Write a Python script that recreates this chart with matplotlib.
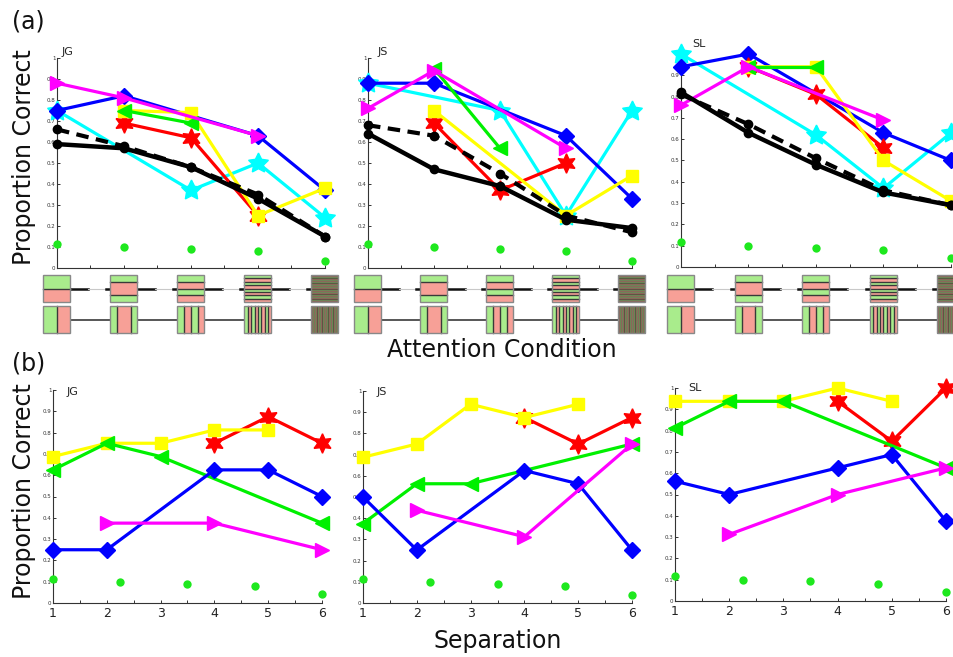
import numpy as np
import matplotlib.pyplot as plt
from matplotlib.patches import Rectangle

nan = np.nan
W, H = 954, 657

subjects = ['JG', 'JS', 'SL']
conditions = [1, 2, 3, 4, 5]
separations = [1, 2, 3, 4, 5, 6]

# (a) proportion correct vs attention condition, one row per subject
a_cyan = [[0.75, nan, 0.37, 0.50, 0.24],
          [0.88, nan, 0.75, 0.25, 0.75],
          [1.00, nan, 0.62, 0.37, 0.63]]
a_blue = [[0.75, 0.82, nan, 0.63, 0.37],
          [0.88, 0.88, nan, 0.63, 0.33],
          [0.94, 1.00, nan, 0.63, 0.50]]
a_red = [[nan, 0.69, 0.62, 0.25, nan],
         [nan, 0.69, 0.37, 0.50, nan],
         [nan, 0.94, 0.81, 0.56, nan]]
a_yellow = [[nan, 0.75, 0.74, 0.25, 0.38],
            [nan, 0.75, nan, 0.25, 0.44],
            [nan, 0.94, 0.94, 0.50, 0.31]]
a_green = [[nan, 0.75, 0.69, nan, nan],
           [nan, 0.95, 0.57, nan, nan],
           [nan, 0.94, 0.94, nan, nan]]
a_magenta = [[0.88, 0.81, nan, 0.63, nan],
             [0.76, 0.94, nan, 0.57, nan],
             [0.76, 0.94, nan, 0.69, nan]]
a_mean = [[0.59, 0.57, 0.48, 0.33, 0.15],
          [0.64, 0.47, 0.39, 0.23, 0.19],
          [0.82, 0.63, 0.48, 0.35, 0.29]]
a_model = [[0.66, 0.58, 0.48, 0.35, 0.15],
           [0.68, 0.63, 0.45, 0.25, 0.17],
           [0.81, 0.67, 0.51, 0.36, 0.29]]
a_chance = [[0.115, 0.10, 0.09, 0.08, 0.035],
            [0.113, 0.10, 0.09, 0.08, 0.035],
            [0.117, 0.10, 0.09, 0.08, 0.04]]

# (b) proportion correct vs separation
b_yellow = [[0.6875, 0.75, 0.75, 0.8125, 0.8125, nan],
            [0.6875, 0.75, 0.9375, 0.875, 0.9375, nan],
            [0.9375, 0.9375, 0.9375, 1.0, 0.9375, nan]]
b_red = [[nan, nan, nan, 0.75, 0.875, 0.75],
         [nan, nan, nan, 0.875, 0.75, 0.875],
         [nan, nan, nan, 0.9375, 0.75, 1.0]]
b_green = [[0.625, 0.75, 0.6875, nan, nan, 0.375],
           [0.375, 0.5625, 0.5625, nan, nan, 0.75],
           [0.8125, 0.9375, 0.9375, nan, nan, 0.625]]
b_blue = [[0.25, 0.25, nan, 0.625, 0.625, 0.5],
          [0.5, 0.25, nan, 0.625, 0.5625, 0.25],
          [0.5625, 0.5, nan, 0.625, 0.6875, 0.375]]
b_magenta = [[nan, 0.375, nan, 0.375, nan, 0.25],
             [nan, 0.4375, nan, 0.3125, nan, 0.75],
             [nan, 0.3125, nan, 0.5, nan, 0.625]]
b_chance = [[0.115, 0.10, 0.09, 0.08, 0.04],
            [0.115, 0.10, 0.09, 0.08, 0.04],
            [0.117, 0.10, 0.093, 0.082, 0.042]]

# stripe edges of the stimulus icons under (a)
icon_edges = [[0.5], [0.25, 0.75], [0.25, 0.5, 0.75],
              list(np.linspace(0, 1, 9)[1:-1]), list(np.linspace(0, 1, 33)[1:-1])]

# pixel boxes (left, right, top, bottom)
boxes_a = [(57, 325, 58, 268), (368, 632, 58, 268), (681, 951, 54, 267)]
boxes_b = [(53, 322, 390, 603), (363, 632, 391, 603), (675, 946, 388, 601)]
label_pos_a = [(1.075, 1.03), (1.14, 1.03), (1.16, 1.045)]
label_pos_b = [(1.26, 0.99), (1.26, 0.995), (1.24, 1.0)]

GREEN_ICON = '#a9ec8c'
SALMON = '#f7a097'
DARK = '#3a3a3a'

styles = {
    'cyan': dict(color='#00ffff', marker=(5, 1, 0), ms=15),
    'blue': dict(color='#0000ff', marker='D', ms=8),
    'red': dict(color='#ff0000', marker=(6, 1, 0), ms=14),
    'yellow': dict(color='#ffff00', marker='s', ms=8),
    'green': dict(color='#00f000', marker='<', ms=10),
    'magenta': dict(color='#ff00ff', marker='>', ms=10),
}

fig = plt.figure(figsize=(W / 100, H / 100), dpi=100)


def px_axes(box):
    l, r, t, b = box
    return fig.add_axes([l / W, 1 - b / H, (r - l) / W, (b - t) / H])


def series(ax, x, y, **kw):
    x = np.asarray(x, float)
    y = np.asarray(y, float)
    m = ~np.isnan(y)
    ax.plot(x[m], y[m], clip_on=False, **kw)


def style_axes(ax, xmax, xlabels):
    ax.set_xlim(1, xmax)
    ax.set_ylim(0, 1)
    for s in ['top', 'right']:
        ax.spines[s].set_visible(False)
    for s in ['left', 'bottom']:
        ax.spines[s].set_color('#333333')
        ax.spines[s].set_linewidth(0.8)
    yt = np.round(np.arange(0, 1.01, 0.1), 1)
    ax.set_yticks(yt)
    ax.set_yticklabels(['0'] + [f'{v:g}' for v in yt[1:-1]] + ['1'])
    xt = np.arange(1, xmax + 0.01, 0.5)
    ax.set_xticks(xt)
    if xlabels:
        ax.set_xticklabels([f'{int(v)}' if v == int(v) else '' for v in xt])
    else:
        ax.set_xticklabels([])
    ax.tick_params(direction='in', length=2.5, width=0.7, colors='#333333')
    ax.tick_params(axis='y', labelsize=4, pad=1)
    ax.tick_params(axis='x', labelsize=9, pad=3, labelcolor='#222222')


def draw_icons(ax, xs, units_per_px):
    hw = 13.5 * units_per_px
    rows = [(60, False), (29, True)]  # top edge (px units), vertical stripes?
    for top, vertical in rows:
        yc = top - 13.5
        for i in range(len(xs) - 1):
            x0 = xs[i] + hw
            x1 = xs[i + 1] - hw
            if vertical:
                ax.plot([x0, x1], [yc, yc], color=DARK, lw=1.2, zorder=1)
            else:
                xa = x0 + 18 * units_per_px
                xb = x1 - 4 * units_per_px
                ax.plot([x0, xa], [yc, yc], color='#111111', lw=1.8, zorder=1)
                ax.plot([xa, xb], [yc, yc], color='#c8c8c8', lw=0.8, zorder=1)
                ax.plot([xb, x1], [yc, yc], color='#111111', lw=1.8, zorder=1)
        for x, edges in zip(xs, icon_edges):
            bounds = [0] + list(edges) + [1]
            left = x - hw
            w = 2 * hw
            for k in range(len(bounds) - 1):
                col = GREEN_ICON if k % 2 == 0 else SALMON
                if vertical:
                    rect = Rectangle((left + bounds[k] * w, top - 27),
                                     (bounds[k + 1] - bounds[k]) * w, 27)
                else:
                    rect = Rectangle((left, top - bounds[k + 1] * 27),
                                     w, (bounds[k + 1] - bounds[k]) * 27)
                rect.set(facecolor=col, edgecolor='none', zorder=2, clip_on=False)
                ax.add_patch(rect)
            lw = 1.0 if len(edges) < 10 else 0.45
            lc = DARK if len(edges) < 10 else '#4a4636'
            for e in edges:
                if vertical:
                    ax.plot([left + e * w] * 2, [top - 27, top], color=lc,
                            lw=lw, zorder=3, clip_on=False)
                else:
                    ax.plot([left, left + w], [top - e * 27] * 2, color=lc,
                            lw=lw, zorder=3, clip_on=False)
            ax.add_patch(Rectangle((left, top - 27), w, 27, facecolor='none',
                                   edgecolor='#888888', lw=1.0, zorder=4,
                                   clip_on=False))


# ---- panel (a)
for i, subj in enumerate(subjects):
    ax = px_axes(boxes_a[i])
    series(ax, conditions, a_cyan[i], lw=2.3, zorder=3, **styles['cyan'])
    series(ax, conditions, a_blue[i], lw=2.3, zorder=3, **styles['blue'])
    series(ax, conditions, a_red[i], lw=2.3, zorder=3, **styles['red'])
    series(ax, conditions, a_yellow[i], lw=2.3, zorder=3, **styles['yellow'])
    series(ax, conditions, a_green[i], lw=2.3, zorder=3, **styles['green'])
    series(ax, conditions, a_magenta[i], lw=2.3, zorder=3, **styles['magenta'])
    series(ax, conditions, a_mean[i], color='black', lw=3.2, marker='o', ms=6, zorder=4)
    series(ax, conditions, a_model[i], color='black', lw=3.0, ls=(0, (3, 1.8)),
           marker='o', ms=6, zorder=4)
    ax.plot(np.linspace(1, 5, 5), a_chance[i], 'o', color='#1ee81e', ms=6,
            mec='none', clip_on=False, zorder=3)
    style_axes(ax, 5, False)
    ax.text(*label_pos_a[i], subj, fontsize=8, va='center', color='#222222')

    l, r, t, b = boxes_a[i]
    gax = fig.add_axes([l / W, 1 - 335 / H, (r - l) / W, 62 / H])
    gax.set_xlim(1, 5)
    gax.set_ylim(0, 62)
    gax.axis('off')
    draw_icons(gax, conditions, 4 / (r - l))

# ---- panel (b)
for i, subj in enumerate(subjects):
    ax = px_axes(boxes_b[i])
    series(ax, separations, b_red[i], lw=2.3, zorder=3, **styles['red'])
    series(ax, separations, b_yellow[i], lw=2.3, zorder=3, **styles['yellow'])
    series(ax, separations, b_green[i], lw=2.3, zorder=3, **styles['green'])
    series(ax, separations, b_blue[i], lw=2.3, zorder=3, **styles['blue'])
    series(ax, separations, b_magenta[i], lw=2.3, zorder=3, **styles['magenta'])
    ax.plot(np.linspace(1, 6, 5), b_chance[i], 'o', color='#1ee81e', ms=6,
            mec='none', clip_on=False, zorder=3)
    style_axes(ax, 6, True)
    ax.text(*label_pos_b[i], subj, fontsize=8, va='center', color='#222222')

fig.text(12 / W, 1 - 21 / H, '(a)', fontsize=17, va='center', color='#111111')
fig.text(12 / W, 1 - 364 / H, '(b)', fontsize=17, va='center', color='#111111')
fig.text(24 / W, 1 - 157 / H, 'Proportion Correct', fontsize=17, rotation=90,
         ha='center', va='center', color='#111111')
fig.text(24 / W, 1 - 491 / H, 'Proportion Correct', fontsize=17, rotation=90,
         ha='center', va='center', color='#111111')
fig.text(502 / W, 1 - 350 / H, 'Attention Condition', fontsize=17,
         ha='center', va='center', color='#111111')
fig.text(498 / W, 1 - 641 / H, 'Separation', fontsize=17,
         ha='center', va='center', color='#111111')

fig.savefig('out.png', dpi=100)
